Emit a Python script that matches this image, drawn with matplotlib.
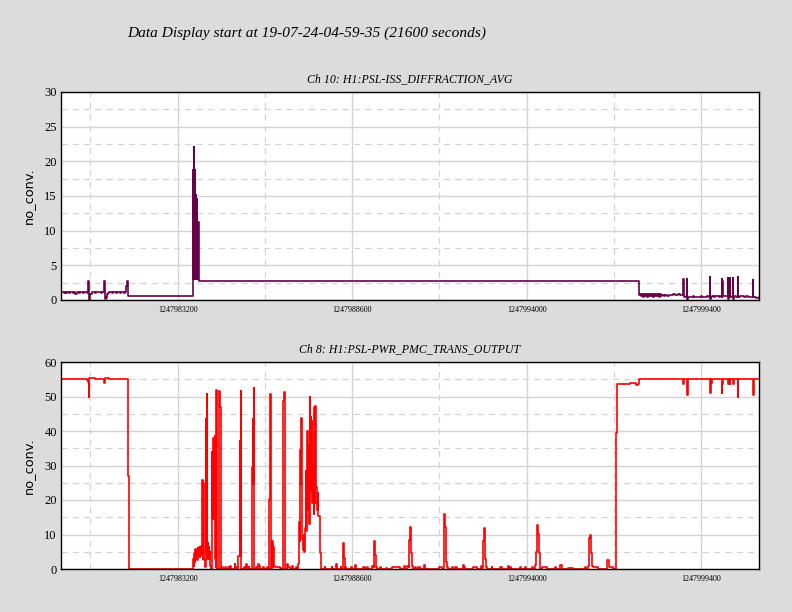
import numpy as np
import matplotlib
matplotlib.use("Agg")
import matplotlib.pyplot as plt
from matplotlib.ticker import FixedLocator, MultipleLocator

# GPS start of the display and its length
gps_start = 1247979590
duration = 21600

title = "Data Display start at 19-07-24-04-59-35 (21600 seconds)"
ch10_name = "Ch 10: H1:PSL-ISS_DIFFRACTION_AVG"
ch8_name = "Ch 8: H1:PSL-PWR_PMC_TRANS_OUTPUT"

xtick_gps = [1247983200, 1247988600, 1247994000, 1247999400]
xminor_gps = [1247980500, 1247985900, 1247991300, 1247996700]

# Ch 10 (seconds from start, value)
ch10_t = [0, 40, 80, 120, 160, 200, 240, 280, 320, 360, 400, 440, 480, 520, 560, 600, 640, 680, 720, 760, 800,
          840, 860, 875, 890, 905, 920, 960, 1000, 1040, 1080, 1120, 1160, 1200, 1240, 1280, 1320,
          1345, 1365, 1380, 1395, 1410, 1430, 1460, 1500, 1540, 1580, 1620, 1660, 1700, 1740, 1780, 1820,
          1860, 1900, 1940, 1980, 2025, 2055, 2075,
          4095, 4100, 4105, 4110, 4115, 4122, 4128, 4133, 4138, 4143, 4150, 4155, 4160, 4165, 4170, 4175,
          4180, 4185, 4190, 4195, 4200, 4207, 4212, 4218, 4224, 4230, 4236, 4242, 4248, 4255, 4262,
          17889, 17930, 17960, 17990, 18020, 18050, 18080, 18110, 18140, 18170, 18200, 18230, 18260, 18290,
          18320, 18350, 18380, 18410, 18440, 18470, 18500, 18530, 18560, 18600, 18650, 18700, 18750, 18800,
          18850, 18900, 18950, 19000, 19050, 19100, 19150, 19200, 19250, 19265, 19290, 19330, 19370, 19385,
          19400, 19450, 19500, 19550, 19600, 19650, 19700, 19750, 19800, 19850, 19900, 19950, 20000, 20050,
          20085, 20095, 20110, 20150, 20200, 20250, 20300, 20350, 20400, 20440, 20450, 20455, 20465, 20470,
          20480, 20520, 20580, 20640, 20650, 20665, 20705, 20715, 20760, 20795, 20805, 20820, 20880, 20950,
          20960, 21000, 21050, 21100, 21150, 21200, 21250, 21300, 21350, 21415, 21425, 21470, 21520, 21600]
ch10_v = [1.1, 1.2, 1.0, 1.15, 1.05, 1.2, 0.95, 1.1, 1.2, 1.0, 1.1, 0.85, 1.15, 1.2, 1.0, 1.1, 1.2, 0.95, 1.1, 1.2, 1.05,
          2.8, 0.3, 0.0, 0.5, 0.8, 0.9, 1.1, 1.2, 1.0, 1.15, 1.2, 1.1, 1.2, 1.0, 1.15, 1.1,
          2.8, 0.2, 0.5, 0.3, 0.7, 0.9, 1.0, 1.1, 1.2, 1.05, 1.1, 1.15, 1.0, 1.1, 1.2, 1.05,
          1.1, 1.15, 1.0, 1.1, 2.0, 2.8, 0.6,
          18.8, 3.0, 18.8, 3.0, 18.8, 22.0, 3.0, 18.8, 3.0, 18.8, 3.0, 18.6, 3.0, 15.2, 3.0, 15.0,
          3.0, 14.6, 3.0, 14.6, 3.0, 11.3, 3.0, 11.3, 3.0, 11.3, 3.0, 11.3, 3.0, 11.3, 2.8,
          0.7, 0.9, 0.6, 0.8, 0.5, 0.9, 0.6, 0.8, 0.5, 0.9, 0.6, 0.8, 0.6, 0.9,
          0.5, 0.8, 0.6, 0.9, 0.6, 0.8, 0.5, 0.8, 0.6, 0.7, 0.6, 0.65, 0.6, 0.7,
          0.75, 0.7, 0.8, 0.75, 0.7, 0.8, 0.75, 0.7, 3.1, 0.7, 0.5, 0.6, 3.1, 0.0,
          0.4, 0.5, 0.45, 0.6, 0.5, 0.45, 0.5, 0.4, 0.55, 0.5, 0.45, 0.5, 0.55, 0.5,
          3.3, 0.1, 0.5, 0.55, 0.5, 0.6, 0.55, 0.5, 0.6, 2.9, 0.5, 3.0, 0.4, 2.8,
          0.6, 0.55, 0.6, 3.2, 0.2, 0.6, 3.2, 0.5, 0.55, 3.2, 0.1, 0.6, 0.5, 3.3,
          0.5, 0.6, 0.55, 0.6, 0.5, 0.55, 0.5, 0.45, 0.5, 2.9, 0.5, 0.4, 0.35, 0.4]

# Ch 8 (seconds from start, value)
ch8_t = [0, 100, 200, 300, 400, 500, 600, 700, 800, 850, 865, 880, 950, 1050, 1150, 1250, 1330, 1345, 1375,
         1420, 1500, 1600, 1700, 1800, 1900, 2000, 2060, 2090,
         4094, 4116, 4125, 4147, 4162, 4187, 4199, 4218, 4230, 4249, 4261, 4286, 4301, 4323, 4332, 4363,
         4385, 4400, 4416, 4435, 4456, 4478, 4496, 4509, 4527, 4540, 4558, 4571, 4589, 4602, 4620, 4642,
         4673, 4682, 4695, 4704, 4713, 4726, 4735, 4744, 4756, 4766, 4775, 4787, 4806, 4821,
         4889, 4899, 4920, 4942, 4982, 4998, 5076, 5091, 5169, 5184, 5230, 5252, 5376, 5395, 5438,
         5469, 5488, 5531, 5549, 5561, 5580, 5663, 5686, 5735, 5757, 5778, 5818, 5833,
         5902, 5911, 5933, 5952, 5964, 5983, 6035, 6051, 6097, 6128, 6159,
         6252, 6268, 6385, 6400, 6437, 6478, 6500, 6530, 6561, 6571, 6592, 6623, 6778, 6818,
         6871, 6902, 6923, 6994, 7025, 7078, 7159, 7190, 7283, 7300, 7335, 7366, 7387, 7406, 7418,
         7437, 7449, 7468, 7490, 7511, 7530, 7552, 7573, 7592, 7614, 7635, 7654, 7676, 7697, 7716,
         7728, 7747, 7759, 7778, 7799, 7821, 7830, 7852, 7861, 7883, 7902, 7923, 7945, 7964, 7985,
         8007, 8026, 8047,
         8170, 8185, 8377, 8393, 8510, 8526, 8656, 8671, 8736, 8758, 8779, 8798, 8820, 8974, 8990,
         9098, 9120, 9346, 9408, 9470, 9501, 9633, 9677, 9686, 9717, 9739, 9770, 9872, 9903,
         10057, 10088, 10234, 10491, 10614, 10645, 10717, 10760, 10769, 10800, 10831, 10862, 10893,
         10955, 10986, 11048, 11110, 11243, 11264, 11707, 11781, 11843, 11862, 11883, 11905, 11914,
         11936, 11976, 12091, 12131, 12193, 12245, 12431, 12462, 12487, 12750, 12864, 12988, 13013,
         13069, 13100, 13130, 13161, 13183, 13328, 13353, 13585, 13638, 13824, 13854, 13895, 13926,
         14204, 14235, 14359, 14390, 14585, 14606, 14659, 14709, 14730, 14761, 14783, 14814, 14838,
         14876, 15030, 15287, 15318, 15442, 15495, 15690, 15844, 16216, 16247, 16318, 16349, 16380,
         16402, 16433, 16463, 16618, 16906, 16958, 17092,
         17184, 17215, 17400, 17600, 17800, 17870,
         17889, 18200, 18500, 18800, 19000, 19150, 19260, 19275, 19370, 19395, 19410, 19500, 19800,
         19900, 20080, 20100, 20125, 20145, 20250, 20350, 20455, 20470, 20485, 20640, 20665, 20690,
         20710, 20800, 20815, 20950, 20965, 21100, 21300, 21415, 21430, 21550, 21600]
ch8_v = [55.0, 55.2, 55.0, 55.1, 55.0, 55.2, 55.0, 55.1, 54.8, 54.2, 50.0, 55.5, 55.3, 55.1, 55.2, 55.0, 55.2, 54.0, 55.5,
         55.3, 55.0, 55.1, 55.0, 55.2, 55.0, 55.1, 27.0, 0.0,
         3.0, 1.0, 4.5, 2.0, 5.7, 3.0, 5.5, 2.5, 6.2, 4.0, 6.5, 3.5, 6.5, 4.0, 6.6, 25.8,
         3.0, 25.0, 6.0, 2.6, 0.5, 43.5, 5.0, 50.7, 3.0, 7.5, 4.0, 6.5, 3.0, 5.0, 1.0, 0.0,
         34.0, 15.0, 37.0, 14.6, 38.0, 20.0, 36.0, 14.6, 38.6, 15.0, 3.0, 0.5, 51.8, 0.0,
         0.5, 51.5, 47.0, 0.0, 0.5, 0.0, 0.5, 0.0, 0.5, 0.0, 1.0, 0.0, 1.5, 0.7, 0.0,
         0.5, 3.7, 37.0, 3.7, 51.5, 0.0, 0.7, 0.0, 1.5, 0.5, 0.0, 0.5, 0.0,
         0.5, 29.5, 43.5, 24.5, 52.5, 0.0, 0.5, 0.0, 1.5, 1.0, 0.0,
         0.5, 0.0, 0.5, 0.0, 20.4, 50.8, 0.0, 8.0, 0.5, 6.5, 1.0, 0.5, 0.3, 0.0,
         48.6, 51.4, 0.0, 1.5, 0.7, 0.0, 1.0, 0.0, 0.5, 0.0, 1.5, 13.6, 8.0, 34.5, 24.5,
         43.8, 24.0, 8.7, 5.5, 10.0, 5.0, 12.0, 28.5, 11.0, 40.0, 17.0, 36.0, 13.0, 49.9, 37.0,
         44.0, 22.7, 42.8, 19.0, 30.3, 16.0, 47.0, 19.0, 47.2, 26.0, 23.8, 17.0, 22.0, 15.5, 15.5,
         6.0, 4.5, 0.0,
         0.5, 0.0, 0.6, 0.0, 1.4, 0.0, 0.5, 0.0, 7.6, 3.3, 0.0, 0.5, 0.0, 0.5, 0.0,
         1.2, 0.0, 0.5, 0.0, 0.5, 0.0, 1.0, 0.5, 8.2, 4.1, 0.7, 0.0, 0.5, 0.0,
         0.4, 0.0, 0.5, 0.0, 1.0, 0.0, 1.0, 0.5, 8.4, 12.1, 4.7, 1.0, 0.0,
         0.5, 0.0, 0.5, 0.0, 1.2, 0.0, 0.5, 0.0, 1.6, 15.9, 12.3, 5.0, 2.0,
         0.5, 0.0, 0.5, 0.0, 0.5, 0.0, 1.2, 0.5, 0.0, 0.5, 0.0, 1.0, 0.3,
         8.2, 11.8, 3.0, 0.5, 0.0, 0.5, 0.0, 0.5, 0.0, 1.0, 0.0, 0.5, 0.0,
         0.5, 0.0, 0.5, 0.0, 0.5, 0.0, 1.2, 5.0, 12.8, 10.1, 4.7, 1.0, 0.0,
         0.5, 0.0, 0.5, 0.0, 1.3, 0.0, 0.3, 0.0, 0.7, 0.0, 1.0, 8.9, 9.9,
         4.7, 1.0, 0.5, 0.0, 2.5, 0.5, 0.0,
         39.3, 53.5, 53.6, 53.8, 53.4, 53.6,
         55.0, 55.0, 55.1, 55.0, 55.0, 55.0, 53.6, 55.0, 50.4, 50.6, 55.2, 55.0, 55.1,
         55.2, 51.1, 55.0, 54.0, 55.0, 55.1, 55.0, 51.0, 53.5, 55.0, 53.7, 55.0, 53.7,
         55.0, 53.7, 55.0, 49.9, 55.0, 55.1, 55.0, 50.3, 55.0, 55.2, 55.2]

bg = "#dcdcdc"
serif = "Liberation Serif"

fig = plt.figure(figsize=(7.92, 6.12), dpi=100, facecolor=bg)

fig.text(127 / 792, 1 - 33 / 612, title, fontsize=11.1, style="italic",
         family=serif, ha="left", va="center")


def setup_axes(ax, name, ymax, ymajor):
    ax.set_facecolor("white")
    ax.set_xlim(gps_start, gps_start + duration)
    ax.set_ylim(0, ymax)
    ax.xaxis.set_major_locator(FixedLocator(xtick_gps))
    ax.xaxis.set_minor_locator(FixedLocator(xminor_gps))
    ax.set_xticklabels([str(v) for v in xtick_gps], family=serif, fontsize=5.8)
    ax.yaxis.set_major_locator(MultipleLocator(ymajor))
    ax.yaxis.set_minor_locator(MultipleLocator(ymajor / 2))
    for lab in ax.get_yticklabels():
        lab.set_family(serif)
        lab.set_fontsize(9)
    ax.tick_params(which="both", length=0, pad=3)
    ax.tick_params(axis="x", pad=4)
    ax.grid(which="major", color="#d4d4d4", linewidth=1.0, linestyle="-")
    ax.grid(which="minor", color="#d4d4d4", linewidth=0.9, linestyle=(0, (5, 4)))
    ax.set_axisbelow(True)
    for sp in ax.spines.values():
        sp.set_color("black")
        sp.set_linewidth(1.0)
    ax.set_ylabel("no_conv.", family="DejaVu Sans", fontsize=9.3, labelpad=7)
    ax.set_title(name, family=serif, style="italic", fontsize=8.6, pad=7)


ax1 = fig.add_axes([61 / 792, 1 - 300 / 612, 698 / 792, 208 / 612])
ax1.plot(gps_start + np.array(ch10_t), ch10_v, drawstyle="steps-post",
         color="#690048", linewidth=1.2)
setup_axes(ax1, ch10_name, 30, 5)

ax2 = fig.add_axes([61 / 792, 1 - 569 / 612, 698 / 792, 207 / 612])
ax2.plot(gps_start + np.array(ch8_t), ch8_v, drawstyle="steps-post",
         color="#ff0000", linewidth=1.2)
setup_axes(ax2, ch8_name, 60, 10)

fig.savefig("out.png", dpi=100, facecolor=bg)
